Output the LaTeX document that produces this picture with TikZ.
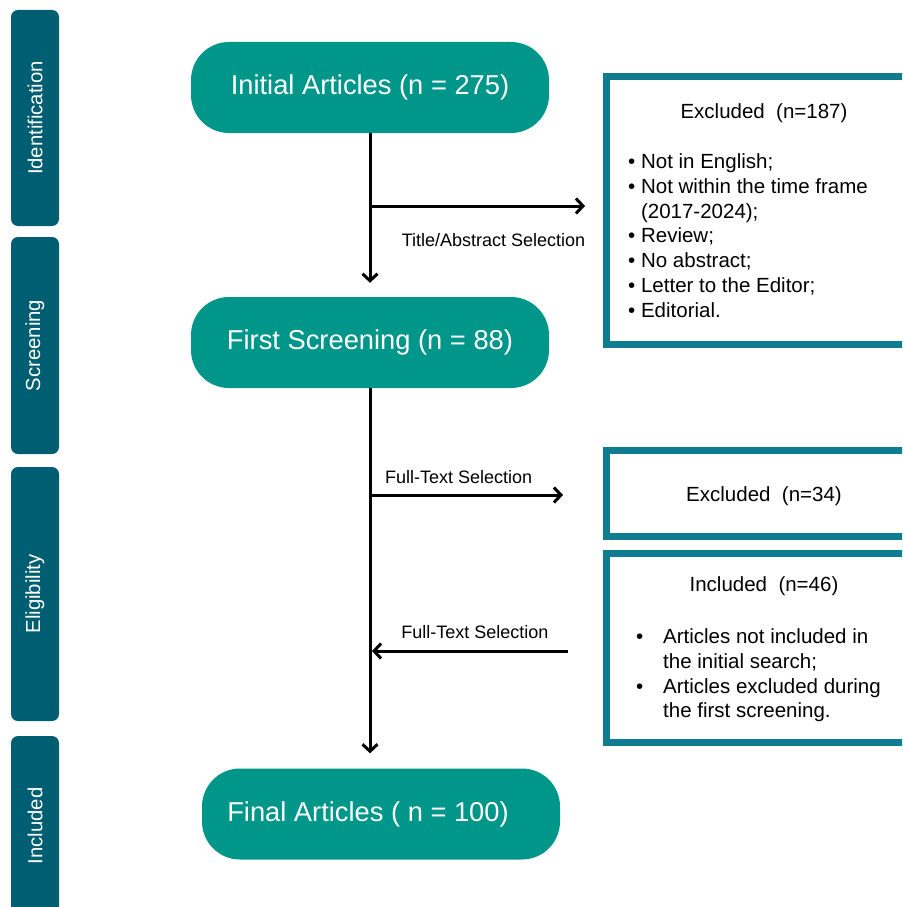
\documentclass[tikz,border=0pt]{standalone}
\usepackage{fontspec}
\setmainfont{Liberation Sans}
\usetikzlibrary{arrows.meta,calc}
\definecolor{pillteal}{RGB}{0,150,137}
\definecolor{stageblue}{RGB}{0,94,114}
\definecolor{frameteal}{RGB}{16,124,144}
\tikzset{
	pill/.style={fill=pillteal, text=white, rounded corners=38pt, minimum width=358pt, minimum height=91pt, inner sep=0pt, font=\fontsize{27.3}{32}\selectfont},
	stagebar/.style={fill=stageblue, text=white, rotate=90, rounded corners=7pt, minimum height=48pt, inner sep=0pt, font=\fontsize{20.3}{24}\selectfont},
	framebox/.style={draw=frameteal, line width=7pt, minimum width=315pt, inner sep=0pt},
	arr/.style={line width=3pt, -{Straight Barb[length=7pt,width=15pt]}},
	sellabel/.style={font=\fontsize{18}{21}\selectfont, inner sep=0pt},
	boxtitle/.style={font=\fontsize{20.5}{24.8}\selectfont, inner sep=0pt},
	boxlist/.style={font=\fontsize{20.5}{24.8}\selectfont, align=left, inner sep=0pt, anchor=north west}
}

\begin{document}
\begin{tikzpicture}[x=1pt,y=-1pt]
		%%%%% START %%%%%
		\useasboundingbox (0,0) rectangle (902,907);
		\clip (0,0) rectangle (902,907);
		
		% stage bars
		\node[stagebar, minimum width=216pt] (stIdent) at (35,118) {Identification};
		\node[stagebar, minimum width=217pt] (stScreen) at (35,345.5) {Screening};
		\node[stagebar, minimum width=254pt] (stElig) at (35,594) {Eligibility};
		\node[stagebar, minimum width=180pt] (stIncl) at (35,826) {Included};
		
		% main flow
		\node[pill] (init) at (370,87.5) {Initial Articles (n = 275)};
		\node[pill] (first) at (370,342.5) {First Screening (n = 88)};
		\node[pill] (final) at (381,814) {Final Articles ( n = 100)\hspace*{26pt}};
		
		% side boxes
		\node[framebox, minimum height=268pt] (excl1) at (764,210.5) {};
		\node[framebox, minimum height=86pt] (excl2) at (764,493.5) {};
		\node[framebox, minimum height=189pt] (inclbox) at (764,648) {};
		
		\node[boxtitle] (excl1t) at (764,113) {Excluded\ \ (n=187)};
		\node[boxlist] (excl1l) at (628,153.5) {%
			•\ Not in English;\\
			•\ Not within the time frame\\
			\hphantom{•\ }(2017-2024);\\
			•\ Review;\\
			•\ No abstract;\\
			•\ Letter to the Editor;\\
			•\ Editorial.};
		
		\node[boxtitle] (excl2t) at (764,496) {Excluded\ \ (n=34)};
		
		\node[boxtitle] (inclt) at (764,586) {Included\ \ (n=46)};
		\node[boxlist] (incll) at (636,628.5) {%
			\makebox[27pt][l]{•}Articles not included in\\
			\makebox[27pt][l]{}the initial search;\\
			\makebox[27pt][l]{•}Articles excluded during\\
			\makebox[27pt][l]{}the first screening.};
		
		% connectors
		\draw[arr, shorten >=14pt] (init.south) -- (first.north);
		\coordinate (b1) at (370,206);
		\draw[arr, shorten >=18pt] (b1) -- (b1 -| excl1.west)
			node[sellabel, pos=0.53, below=26pt] (sel1) {Title/Abstract Selection};
		
		\draw[arr, shorten >=15pt] (first.south) -- (first.south |- final.north);
		\coordinate (b2) at (370,495);
		\draw[arr, shorten >=40pt] (b2) -- (b2 -| excl2.west)
			node[sellabel, pos=0.38, above=9.5pt] (sel2) {Full-Text Selection};
		
		\coordinate (b3) at (370,651);
		\draw[arr, shorten <=35pt, shorten >=2pt] (b3 -| inclbox.west) -- (b3)
			node[sellabel, pos=0.55, above=10.5pt] (sel3) {Full-Text Selection};
		
		%%%%% END %%%%%
\end{tikzpicture}
\end{document}
